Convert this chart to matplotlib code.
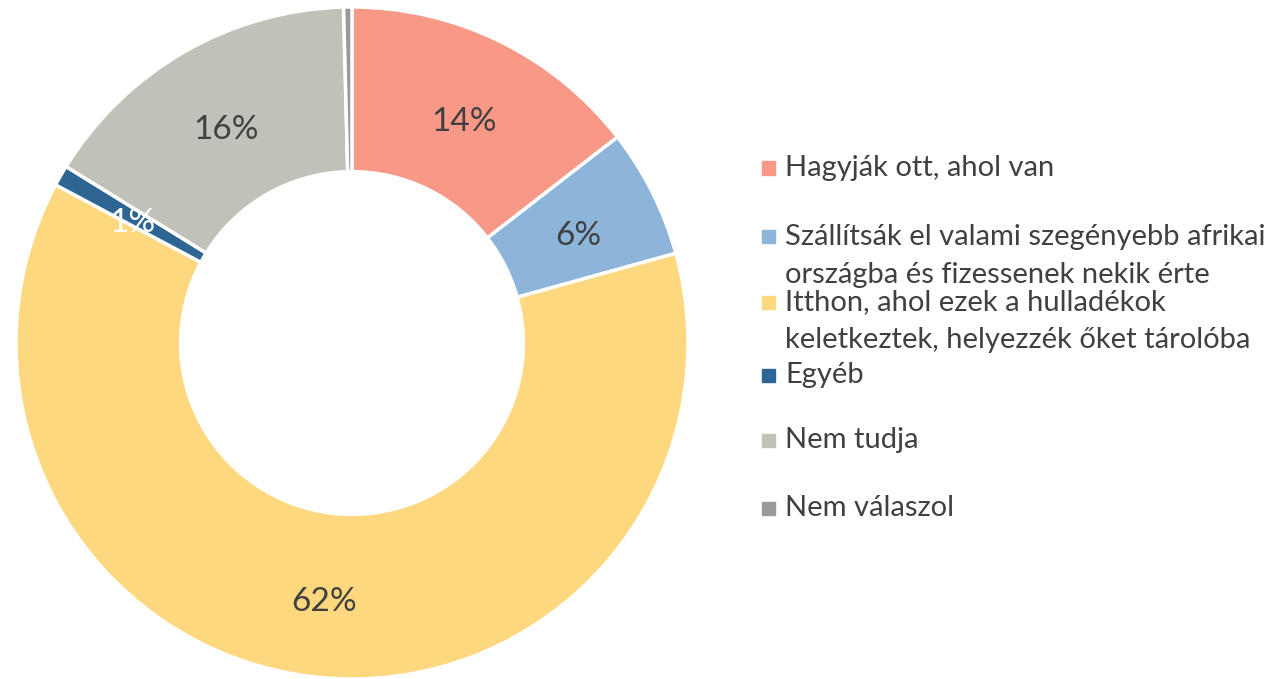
import matplotlib
matplotlib.use("Agg")
import matplotlib.pyplot as plt
import numpy as np

plt.rcParams['font.family'] = ['Lato', 'DejaVu Sans']

# data (share of answers, %)
categories = ["Hagyják ott, ahol van",
              "Szállítsák el valami szegényebb afrikai\nországba és fizessenek nekik érte",
              "Itthon, ahol ezek a hulladékok\nkeletkeztek, helyezzék őket tárolóba",
              "Egyéb",
              "Nem tudja",
              "Nem válaszol"]
values = [14.5, 6.2, 62.1, 1.0, 15.8, 0.4]
pct_labels = ["14%", "6%", "62%", "1%", "16%", ""]
colors = ["#F79986", "#8DB5D9", "#FED87F", "#2E6592", "#C1C1B9", "#999999"]
label_colors = ["#404040", "#404040", "#404040", "white", "#404040", "#404040"]

W, H = 1270, 679
fig = plt.figure(figsize=(W / 100, H / 100), dpi=100)

# donut axes: centre (352, 343) px, outer radius 336 px
cx, cy, r = 352, 343, 336
ax = fig.add_axes([(cx - r) / W, (H - cy - r) / H, 2 * r / W, 2 * r / H])

wedges, _ = ax.pie(values, colors=colors, startangle=90, counterclock=False,
                   radius=1.0, wedgeprops=dict(width=0.49, edgecolor="white", linewidth=2.5))
ax.set_xlim(-1, 1)
ax.set_ylim(-1, 1)
ax.set_aspect("auto")
ax.axis("off")

for w, lab, lc in zip(wedges, pct_labels, label_colors):
    if not lab:
        continue
    th = np.deg2rad((w.theta1 + w.theta2) / 2)
    rr = 0.755
    ax.text(rr * np.cos(th), rr * np.sin(th) - 0.02, lab, ha="center", va="center",
            fontsize=24, color=lc)

# legend drawn by hand to match the uneven spacing of the original
leg_y = [168, 237, 302, 375, 440, 508]   # first-line centre, px from top
line_step = 38
for y, lab, col in zip(leg_y, categories, colors):
    fig.patches.append(plt.Rectangle(((762) / W, (H - y - 6.5) / H), 13 / W, 13 / H,
                                     transform=fig.transFigure, color=col))
    for k, line in enumerate(lab.split("\n")):
        fig.text(785 / W, (H - y - k * line_step) / H, line, ha="left", va="center",
                 fontsize=21, color="#404040")

fig.savefig("out.png", dpi=100)
